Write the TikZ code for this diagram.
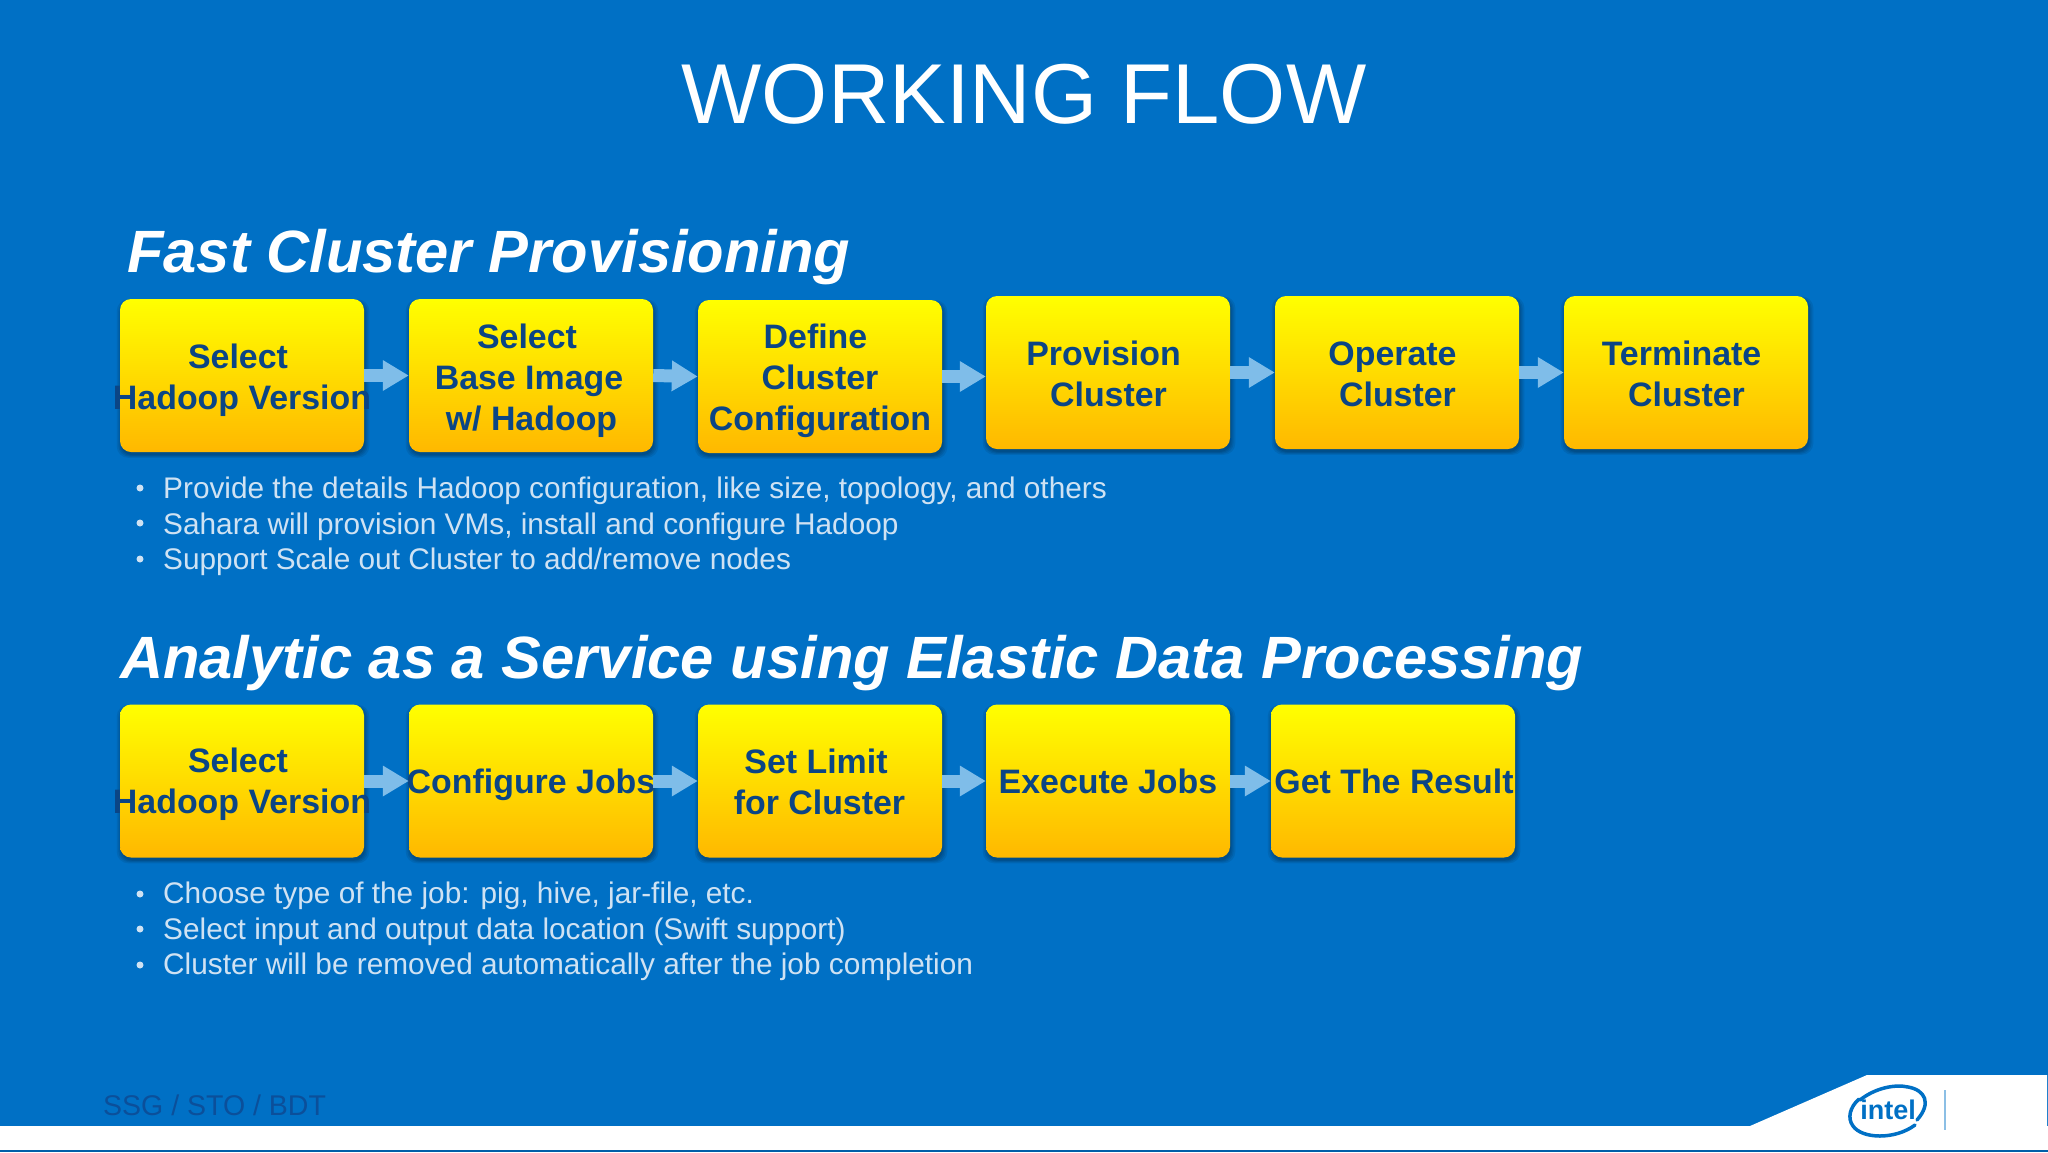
\documentclass[tikz,border=0pt]{standalone}
\usepackage{fontspec}
\setmainfont{Liberation Sans}
\usetikzlibrary{arrows.meta,shadows,calc}
\definecolor{bgblue}{HTML}{0070C5}
\definecolor{boxtxt}{HTML}{0B4585}
\definecolor{flowc}{HTML}{7FBDE9}
\definecolor{bullc}{HTML}{CFE2F3}
\definecolor{footc}{HTML}{0B4F9A}
\tikzset{
  x=1pt,y=-1pt,
  softshadow/.style={general shadow={shadow xshift=#1,shadow yshift=-3pt,shadow scale=1,fill=black,opacity=.09}},
  softwide/.style={general shadow={shadow xshift=1pt,shadow yshift=-3pt,shadow scale=#1,fill=black,opacity=.08}},
  stepbox/.style={minimum width=244pt,minimum height=153pt,inner sep=0pt,rounded corners=11pt,
    top color={rgb,255:red,255;green,255;blue,0},bottom color={rgb,255:red,255;green,184;blue,0},
    softwide=1.035,softwide=1.022,softwide=1.011,softshadow=1pt},
  boxlabel/.style={font=\fontsize{33.9}{41}\selectfont\bfseries,text=boxtxt,align=center,inner sep=0pt},
  flow/.style={draw=flowc,line width=13pt,-{Triangle[length=26pt,width=29pt]},shorten >=0pt},
  heading/.style={font=\fontsize{59.7}{66}\selectfont\bfseries\itshape,text=white,anchor=base west,inner sep=0pt},
  bullets/.style={font=\fontsize{29.8}{35.8}\selectfont,text=bullc,anchor=north west,align=left,inner sep=0pt},
  bdot/.style={circle,fill=bullc,minimum size=7pt,inner sep=0pt},
  logoarc/.style={draw=bgblue,line width=3.5pt,line cap=round},
}
\begin{document}
\begin{tikzpicture}
\useasboundingbox (0,0) rectangle (2048,1152);
\fill[bgblue] (0,0) rectangle (2048,1152);
% footer
\fill[white] (0,1126) -- (1750,1126) -- (1867,1075) -- (2047,1075) -- (2047,1126) -- (2048,1126) -- (2048,1152) -- (0,1152) -- cycle;
\fill[bgblue!85!black] (0,1150) rectangle (2048,1152);
\node[font=\fontsize{28.5}{30}\selectfont,text=footc,anchor=base west,inner sep=0pt] (foot) at (103,1115) {SSG / STO / BDT};
% logo
\node[font=\fontsize{27}{27}\selectfont\bfseries,text=bgblue,inner sep=0pt] (logo) at (1888,1110) {intel};
\draw[logoarc] (1860,1100) .. controls (1875,1088) and (1895,1084) .. (1908,1087) .. controls (1925,1090) and (1932,1103) .. (1917,1120);
\draw[logoarc] (1859,1099) .. controls (1850,1107) and (1847,1118) .. (1853,1126) .. controls (1862,1139) and (1895,1140) .. (1915,1125);
\draw[bgblue!45!white,line width=1.5pt] (1945,1090) -- (1945,1130);
% title
\node[font=\fontsize{85}{85}\selectfont,text=white,inner sep=0pt,anchor=base] (title) at (1024,123.5) {WORKING FLOW};
\node[heading] (h1) at (127,272) {Fast Cluster Provisioning};
\node[heading] (h2) at (120,678) {Analytic as a Service using Elastic Data Processing};
% row 1
\node[stepbox] (a1) at (242,375.5) {};
\node[stepbox] (a2) at (531,375.5) {};
\node[stepbox] (a3) at (820,376.5) {};
\node[stepbox] (a4) at (1108,372.5) {};
\node[stepbox] (a5) at (1397,372.5) {};
\node[stepbox] (a6) at (1686,372.5) {};
\node[boxlabel] (ta1) at (242,380.5) {Select\hspace*{8pt}\\Hadoop Version};
\node[boxlabel] (ta2) at (529,381) {Select\hspace*{4pt}\\Base Image\hspace*{7pt}\\\hspace*{5pt}w/ Hadoop};
\node[boxlabel] (ta3) at (820,381) {Define\hspace*{9pt}\\Cluster\hspace*{15pt}\\Configuration};
\node[boxlabel] (ta4) at (1106,374) {Provision\hspace*{5pt}\\\hspace*{5pt}Cluster};
\node[boxlabel] (ta5) at (1395,374) {Operate\hspace*{5pt}\\\hspace*{5pt}Cluster};
\node[boxlabel] (ta6) at (1684,374) {Terminate\hspace*{5pt}\\\hspace*{5pt}Cluster};
\draw[flow] (a1.east) -- (a2.west);
\draw[flow] (a2.east) -- (a3.west);
\draw[flow] (a3.east) -- (a3.east -| a4.west);
\draw[flow] (a4.east) -- (a5.west);
\draw[flow] (a5.east) -- (a6.west);
% bullets 1
\node[bullets] (l1) at (163,476.5) {Provide the details Hadoop configuration, like size, topology, and others\\Sahara will provision VMs, install and configure Hadoop\\Support Scale out Cluster to add/remove nodes};
\node[bdot] (d1) at (140,488) {};
\node[bdot] (d2) at (140,523) {};
\node[bdot] (d3) at (140,559) {};
% row 2
\node[stepbox] (b1) at (242,781) {};
\node[stepbox] (b2) at (531,781) {};
\node[stepbox] (b3) at (820,781) {};
\node[stepbox] (b4) at (1108,781) {};
\node[stepbox] (b5) at (1393,781) {};
\node[boxlabel] (tb1) at (242,784.5) {Select\hspace*{8pt}\\Hadoop Version};
\node[boxlabel] (tb2) at (531,784.5) {Configure Jobs};
\node[boxlabel] (tb3) at (819.5,782) {Set Limit\hspace*{7pt}\\for Cluster};
\node[boxlabel] (tb4) at (1108,781.5) {Execute Jobs};
\node[boxlabel] (tb5) at (1394,781.5) {Get The Result};
\draw[flow] (b1.east) -- (b2.west);
\draw[flow] (b2.east) -- (b3.west);
\draw[flow] (b3.east) -- (b4.west);
\draw[flow] (b4.east) -- (b5.west);
% bullets 2
\node[bullets] (m1) at (163,881.5) {Choose type of the job: pig, hive, jar-file, etc.\\Select input and output data location (Swift support)\\Cluster will be removed automatically after the job completion};
\node[bdot] (e1) at (140,894) {};
\node[bdot] (e2) at (140,929) {};
\node[bdot] (e3) at (140,965) {};
\end{tikzpicture}
\end{document}
